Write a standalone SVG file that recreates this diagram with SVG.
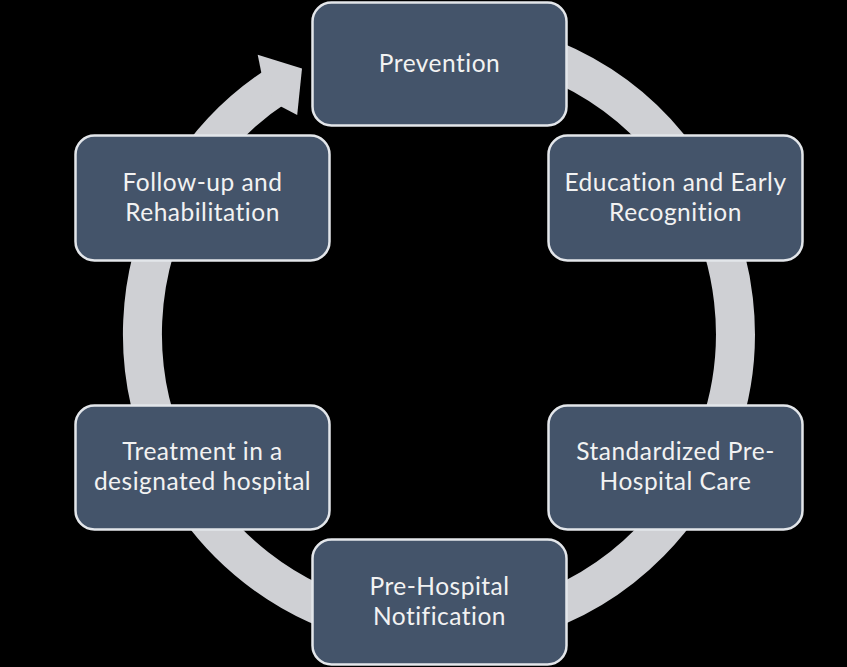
<svg xmlns="http://www.w3.org/2000/svg" width="847" height="667" viewBox="0 0 847 667">
<style>
.node rect{fill:#44546a;stroke:#e3e6ea;stroke-width:2.5}
.node text{font-family:Lato,"Open Sans",sans-serif;font-size:24.5px;letter-spacing:0.5px;font-variant-ligatures:none;fill:#f2f2f2;text-anchor:middle}
.ring{fill:none;stroke:#cfd0d4;stroke-width:39}
.head{fill:#cfd0d4}
</style>
<rect x="0" y="0" width="847" height="667" fill="#000"/>
<g id="connectors">
<path class="ring" d="M 439 37.5 A 296.5 296.5 0 1 1 277.5 85.3"/>
<polygon class="head" points="257.7,54.8 302,68.6 297.2,115.1 280,106 264,86"/>
</g>
<g id="prevention" class="node">
<rect x="312.5" y="2.5" width="254" height="123" rx="19"/>
<text x="439.5" y="72">Prevention</text>
</g>
<g id="education" class="node">
<rect x="548.5" y="135.5" width="254" height="125" rx="19"/>
<text x="675.5" y="191">Education and Early</text>
<text x="675.5" y="220.5">Recognition</text>
</g>
<g id="standardized" class="node">
<rect x="548.5" y="405.5" width="254" height="124" rx="19"/>
<text x="675.5" y="460">Standardized Pre-</text>
<text x="675.5" y="489.5">Hospital Care</text>
</g>
<g id="notification" class="node">
<rect x="312.5" y="539.5" width="254" height="125" rx="19"/>
<text x="439.5" y="595">Pre-Hospital</text>
<text x="439.5" y="625">Notification</text>
</g>
<g id="treatment" class="node">
<rect x="75.5" y="405.5" width="254" height="124" rx="19"/>
<text x="202.5" y="460">Treatment in a</text>
<text x="202.5" y="489.5">designated hospital</text>
</g>
<g id="followup" class="node">
<rect x="75.5" y="135.5" width="254" height="125" rx="19"/>
<text x="202.5" y="191">Follow-up and</text>
<text x="202.5" y="220.5">Rehabilitation</text>
</g>
</svg>
